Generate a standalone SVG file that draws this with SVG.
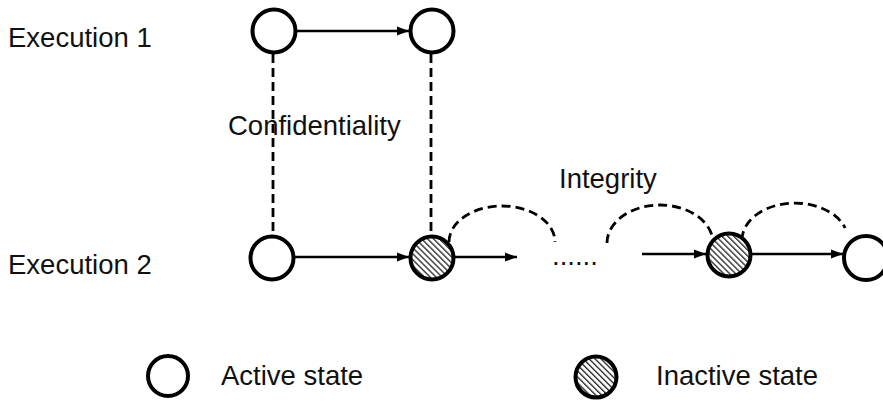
<svg xmlns="http://www.w3.org/2000/svg" width="883" height="402" viewBox="0 0 883 402">
<style>
.lbl{font-family:"Liberation Sans",Arial,sans-serif;font-size:27.5px;fill:#111}
.st{fill:#fff;stroke:#000;stroke-width:4}
.hatch{fill:url(#hp)}
.arr{fill:none;stroke:#000;stroke-width:2.6;marker-end:url(#ah)}
.dash{fill:none;stroke:#000;stroke-width:2.8;stroke-dasharray:9 5}
</style>
<defs>
<pattern id="hp" width="4.2" height="4.2" patternUnits="userSpaceOnUse" patternTransform="rotate(45)">
<rect width="4.2" height="4.2" fill="#fff"/>
<line x1="0" y1="1" x2="4.2" y2="1" stroke="#222" stroke-width="1.3"/>
</pattern>
<marker id="ah" markerUnits="userSpaceOnUse" markerWidth="13" markerHeight="11" refX="12" refY="5.5" orient="auto">
<path d="M0,1 L12,5.5 L0,10 Z" fill="#000"/>
</marker>
</defs>
<g id="labels">
<text class="lbl" x="8" y="47">Execution 1</text>
<text class="lbl" x="8" y="274">Execution 2</text>
<text class="lbl" x="228" y="135">Confidentiality</text>
<text class="lbl" x="559" y="188">Integrity</text>
<text class="lbl" x="552" y="265">......</text>
</g>
<g id="connectors">
<line class="dash" x1="273" y1="54" x2="273" y2="236"/>
<line class="dash" x1="431" y1="54" x2="431" y2="236"/>
<path class="dash" d="M449,242 A53,36 0 0 1 555,242"/>
<path class="dash" d="M607,243 A53,38 0 0 1 713,243"/>
<path class="dash" d="M742,240 A53,37 0 0 1 845.1,228"/>
<line class="arr" x1="297" y1="31" x2="409" y2="31"/>
<line class="arr" x1="295" y1="257" x2="409" y2="257"/>
<line class="arr" x1="455" y1="257" x2="517" y2="257"/>
<line class="arr" x1="642" y1="254" x2="706" y2="254"/>
<line class="arr" x1="752" y1="254" x2="843" y2="254"/>
</g>
<g id="e1s1"><circle class="st" cx="274" cy="31" r="21.5"/></g>
<g id="e1s2"><circle class="st" cx="432" cy="31" r="21.5"/></g>
<g id="e2s1"><circle class="st" cx="272" cy="258" r="21.5"/></g>
<g id="e2s2"><circle class="st hatch" cx="432" cy="258" r="21.5"/></g>
<g id="e2s3"><circle class="st hatch" cx="729" cy="255" r="21.5"/></g>
<g id="e2s4"><circle class="st" cx="866" cy="258" r="22"/></g>
<g id="legend-active">
<circle class="st" cx="168" cy="376" r="20"/>
<text class="lbl" x="221" y="385">Active state</text>
</g>
<g id="legend-inactive">
<circle class="st hatch" cx="596" cy="377" r="20.5"/>
<text class="lbl" x="656" y="385">Inactive state</text>
</g>
</svg>
